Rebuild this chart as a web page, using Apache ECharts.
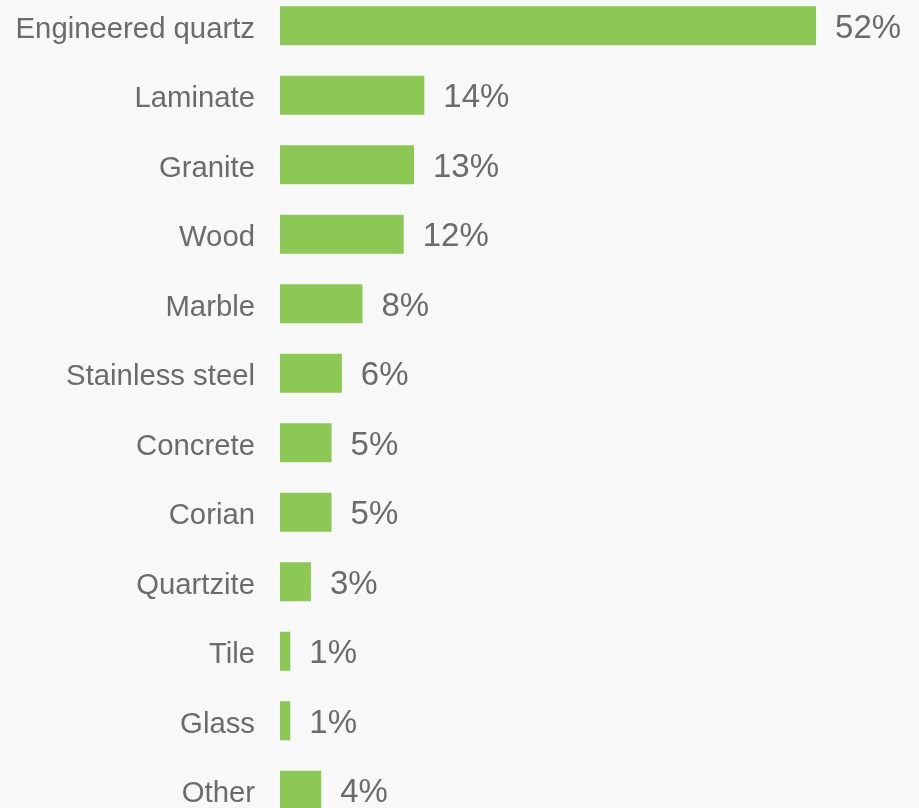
<!DOCTYPE html>
<html>
<head>
<meta charset="utf-8">
<script src="https://cdn.jsdelivr.net/npm/echarts@6/dist/echarts.min.js"></script>
<style>
  html, body { margin: 0; padding: 0; background: #f8f8f8; overflow: hidden; }
  #chart { width: 919px; height: 834px; position: absolute; left: 0; top: -9px; }
</style>
</head>
<body>
<div id="chart"></div>
<script>
const categories = ['Engineered quartz', 'Laminate', 'Granite', 'Wood', 'Marble', 'Stainless steel',
  'Concrete', 'Corian', 'Quartzite', 'Tile', 'Glass', 'Other']
const shares = [52, 14, 13, 12, 8, 6, 5, 5, 3, 1, 1, 4]

const chart = echarts.init(document.getElementById('chart'))

chart.setOption({
  backgroundColor: '#f8f8f8',
  animation: false,
  grid: {
    left: 280,
    top: 0,
    height: 834,
    width: 618.5,
  },
  xAxis: {
    type: 'value',
    min: 0,
    max: 60,
    show: false,
  },
  yAxis: {
    type: 'category',
    data: categories,
    inverse: true,
    axisLine: { show: false },
    axisTick: { show: false },
    axisLabel: {
      margin: 25,
      formatter: v => '{a|' + v + '}',
      rich: {
        a: {
          color: '#6b6b6b',
          fontFamily: 'Liberation Sans, Arial, sans-serif',
          fontSize: 29.3,
          padding: [8, 0, 0, 0],
        },
      },
    },
  },
  series: [
    {
      type: 'bar',
      data: shares,
      barWidth: 39,
      itemStyle: { color: '#8cc954' },
      label: {
        show: true,
        position: 'right',
        distance: 19,
        offset: [0, 3],
        color: '#6b6b6b',
        fontFamily: 'Liberation Sans, Arial, sans-serif',
        fontSize: 33,
        formatter: p => p.value + '%',
      },
    },
  ],
})
</script>
</body>
</html>
